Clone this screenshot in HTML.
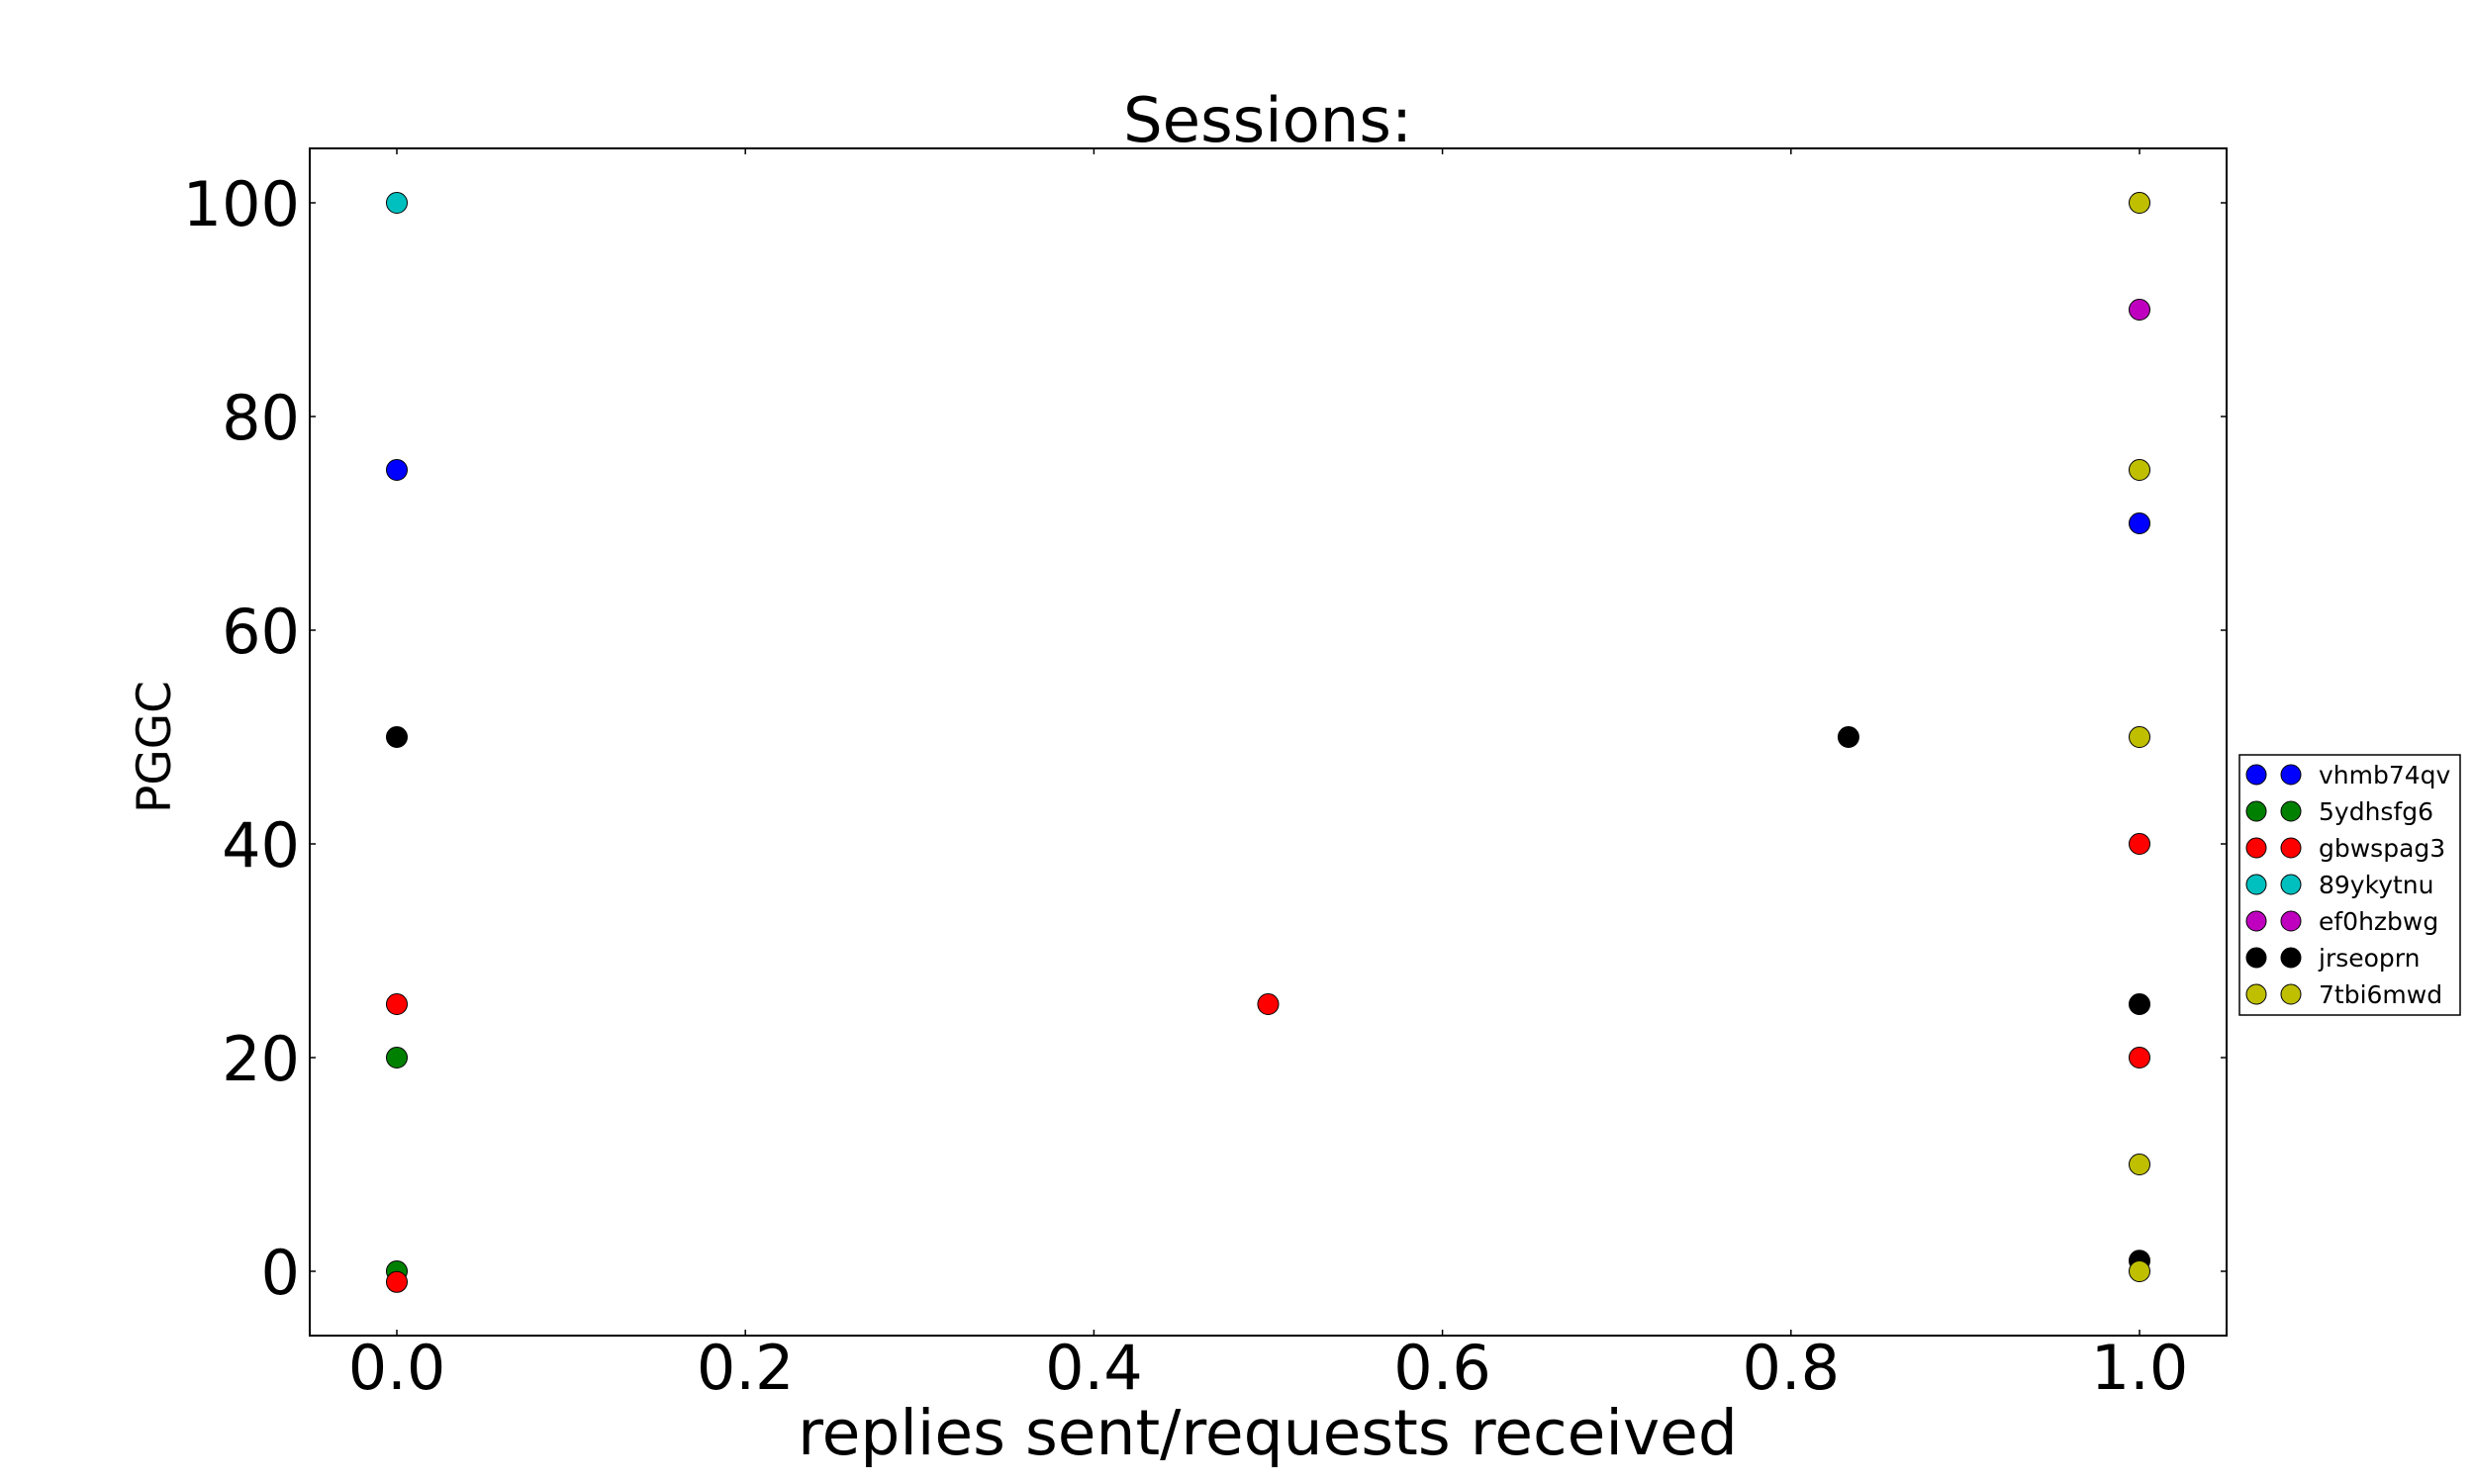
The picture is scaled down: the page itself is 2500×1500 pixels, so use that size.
<!DOCTYPE html>
<html><head><meta charset="utf-8"><style>
html,body{margin:0;padding:0;background:#fff;}
svg{display:block;font-family:"DejaVu Sans","Liberation Sans",sans-serif;}
</style></head><body>
<svg id="chart" width="2500" height="1500" viewBox="0 0 2500 1500">
<rect x="0" y="0" width="2500" height="1500" fill="#fff"/>
<text x="1281" y="143" font-size="62.5" text-anchor="middle">Sessions:</text>
<g id="ticks"></g>
<g id="points"></g>
<rect x="313" y="150" width="1937" height="1200" fill="none" stroke="#000" stroke-width="2"/>
<text x="1281" y="1470" font-size="63" text-anchor="middle">replies sent/requests received</text>
<text transform="translate(172,755) rotate(-90)" font-size="47" text-anchor="middle">PGGC</text>
<g id="legend"></g>
</svg>
<script>
const seriesNames = ["vhmb74qv","5ydhsfg6","gbwspag3","89ykytnu","ef0hzbwg","jrseoprn","7tbi6mwd"];
const seriesColors = ["#0000ff","#008000","#ff0000","#00bfbf","#bf00bf","#000000","#bfbf00"];
const xVhmb = [0,1];            const yVhmb = [75,70];
const x5ydh = [0,0];            const y5ydh = [20,0];
const xGbws = [0,0,0.5,1,1];    const yGbws = [25,-1,25,40,20];
const x89yk = [0];              const y89yk = [100];
const xEf0h = [1];              const yEf0h = [90];
const xJrse = [0,0.833,1,1];    const yJrse = [50,50,25,1];
const x7tbi = [1,1,1,1,1];      const y7tbi = [100,75,50,10,0];
const xTicks = [0,0.2,0.4,0.6,0.8,1.0];
const xTickLabels = ["0.0","0.2","0.4","0.6","0.8","1.0"];
const yTicks = [0,20,40,60,80,100];
const yTickLabels = ["0","20","40","60","80","100"];

const NS = "http://www.w3.org/2000/svg";
function sx(v){ return 401 + v*1761; }
function sy(v){ return 1285 - v*10.8; }
function mk(tag, attrs, parent){ const e=document.createElementNS(NS,tag); for(const k in attrs) e.setAttribute(k,attrs[k]); parent.appendChild(e); return e; }

const tg = document.getElementById('ticks');
xTicks.forEach((t,i)=>{
  const x=sx(t);
  const a=mk('line',{x1:x,y1:1350,x2:x,y2:1344,stroke:'#000','stroke-width':1.5},tg);
  
  
  const b=mk('line',{x1:x,y1:150,x2:x,y2:156,stroke:'#000','stroke-width':1.5},tg);
  
  
  const l=mk('text',{x:x,y:1404,'font-size':62,'text-anchor':'middle'},tg);
  l.textContent=xTickLabels[i];
  
  
});
yTicks.forEach((t,i)=>{
  const y=sy(t);
  const a=mk('line',{x1:313,y1:y,x2:319,y2:y,stroke:'#000','stroke-width':1.5},tg);
  
  
  const b=mk('line',{x1:2250,y1:y,x2:2244,y2:y,stroke:'#000','stroke-width':1.5},tg);
  
  
  const l=mk('text',{x:303,y:y+23,'font-size':62,'text-anchor':'end'},tg);
  l.textContent=yTickLabels[i];
  
  
});

const xs=[xVhmb,x5ydh,xGbws,x89yk,xEf0h,xJrse,x7tbi];
const ys=[yVhmb,y5ydh,yGbws,y89yk,yEf0h,yJrse,y7tbi];
const pg=document.getElementById('points');
xs.forEach((xa,s)=>{
  xa.forEach((xv,i)=>{
    const c=mk('circle',{cx:sx(xv),cy:sy(ys[s][i]),r:10.5,fill:seriesColors[s],stroke:'#000','stroke-width':1},pg);
    
    
  });
});

const lg=document.getElementById('legend');
const box=mk('rect',{x:2263,y:763,width:223,height:263,fill:'#fff',stroke:'#000','stroke-width':1.5},lg);


seriesNames.forEach((n,i)=>{
  const y=783+i*37;
  const g=mk('g',{},lg);
  
  
  mk('circle',{cx:2280,cy:y,r:10,fill:seriesColors[i],stroke:'#000','stroke-width':1},g);
  mk('circle',{cx:2315,cy:y,r:10,fill:seriesColors[i],stroke:'#000','stroke-width':1},g);
  const t=mk('text',{x:2343,y:y+9,'font-size':25},g);
  t.textContent=n;
});
</script>
</body></html>
